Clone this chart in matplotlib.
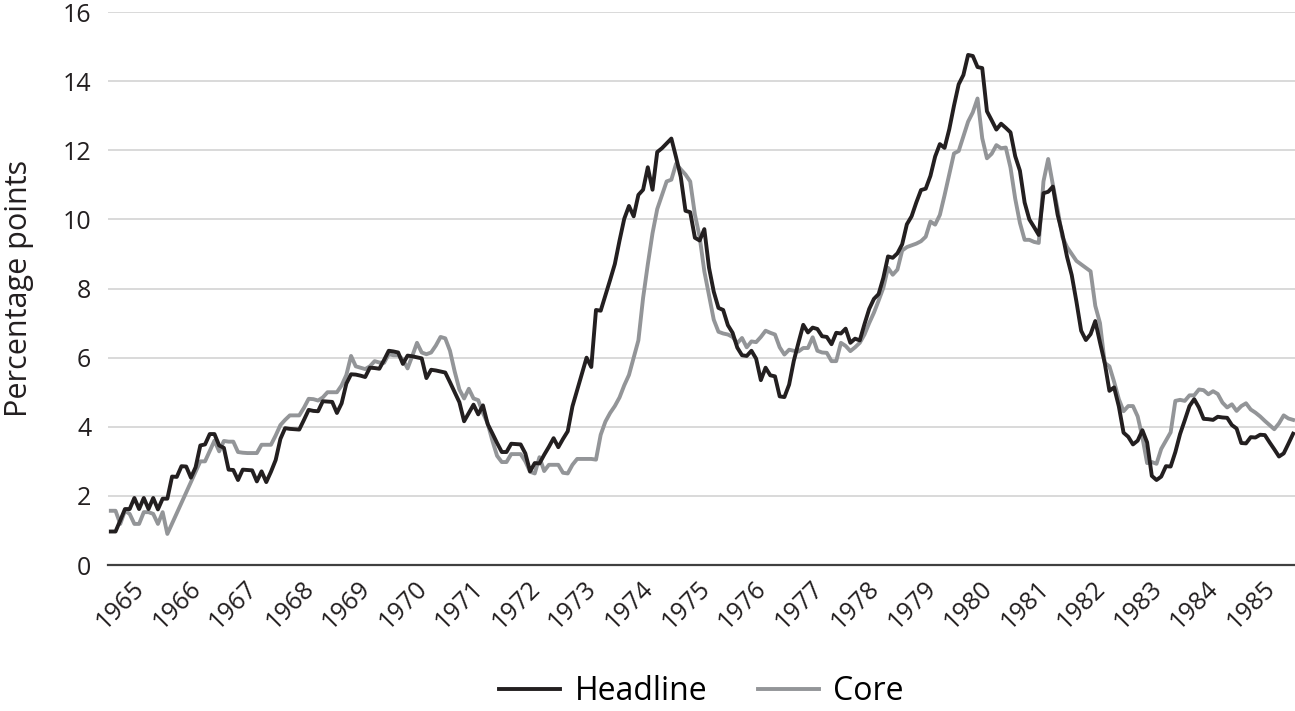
import numpy as np
import matplotlib
matplotlib.use("Agg")
import matplotlib.pyplot as plt

# === Data: monthly, Jan 1965 - Dec 1985 (percent, year over year) ===
headline = [
    0.97, 0.97, 1.29, 1.62, 1.62, 1.94, 1.62, 1.94, 1.62, 1.94, 1.61, 1.92,
    1.92, 2.56, 2.55, 2.86, 2.85, 2.53, 2.83, 3.46, 3.49, 3.79, 3.79, 3.46,
    3.39, 2.76, 2.75, 2.46, 2.76, 2.75, 2.74, 2.42, 2.71, 2.40, 2.70, 3.04,
    3.65, 3.96, 3.94, 3.93, 3.92, 4.20, 4.49, 4.46, 4.45, 4.74, 4.73, 4.72,
    4.40, 4.68, 5.25, 5.52, 5.51, 5.48, 5.44, 5.71, 5.70, 5.68, 5.93, 6.20,
    6.18, 6.15, 5.82, 6.06, 6.04, 6.01, 5.98, 5.41, 5.65, 5.63, 5.60, 5.57,
    5.29, 5.00, 4.71, 4.16, 4.40, 4.64, 4.36, 4.62, 4.08, 3.81, 3.53, 3.27,
    3.27, 3.51, 3.50, 3.49, 3.23, 2.71, 2.95, 2.94, 3.19, 3.42, 3.67, 3.41,
    3.65, 3.87, 4.59, 5.06, 5.53, 6.00, 5.73, 7.38, 7.36, 7.80, 8.25, 8.71,
    9.39, 10.02, 10.39, 10.09, 10.71, 10.86, 11.51, 10.86, 11.95, 12.06, 12.20, 12.34,
    11.80, 11.23, 10.25, 10.21, 9.47, 9.39, 9.72, 8.60, 7.91, 7.44, 7.38, 6.94,
    6.72, 6.29, 6.07, 6.05, 6.20, 5.97, 5.35, 5.71, 5.49, 5.46, 4.88, 4.86,
    5.22, 5.91, 6.44, 6.95, 6.73, 6.87, 6.83, 6.62, 6.60, 6.39, 6.72, 6.70,
    6.84, 6.43, 6.55, 6.50, 6.97, 7.41, 7.70, 7.84, 8.31, 8.93, 8.89, 9.02,
    9.28, 9.86, 10.09, 10.49, 10.85, 10.89, 11.26, 11.82, 12.18, 12.07, 12.61, 13.29,
    13.91, 14.18, 14.76, 14.73, 14.41, 14.38, 13.13, 12.87, 12.60, 12.77, 12.65, 12.52,
    11.83, 11.41, 10.49, 10.00, 9.78, 9.55, 10.76, 10.80, 10.95, 10.14, 9.59, 8.92,
    8.39, 7.62, 6.78, 6.51, 6.68, 7.06, 6.44, 5.85, 5.04, 5.14, 4.59, 3.83,
    3.71, 3.49, 3.60, 3.90, 3.55, 2.58, 2.46, 2.56, 2.86, 2.85, 3.27, 3.79,
    4.19, 4.60, 4.80, 4.56, 4.23, 4.22, 4.20, 4.29, 4.27, 4.26, 4.05, 3.95,
    3.53, 3.52, 3.70, 3.69, 3.77, 3.76, 3.55, 3.35, 3.14, 3.23, 3.51, 3.80,
]

core = [
    1.57, 1.57, 1.19, 1.57, 1.48, 1.19, 1.19, 1.53, 1.53, 1.48, 1.19, 1.53,
    0.90, 1.20, 1.50, 1.80, 2.10, 2.40, 2.70, 3.00, 3.00, 3.30, 3.60, 3.29,
    3.59, 3.57, 3.57, 3.27, 3.25, 3.24, 3.24, 3.24, 3.48, 3.48, 3.48, 3.75,
    4.05, 4.20, 4.33, 4.33, 4.33, 4.55, 4.81, 4.80, 4.76, 4.85, 5.00, 5.00,
    5.00, 5.20, 5.50, 6.05, 5.75, 5.71, 5.67, 5.75, 5.90, 5.86, 5.85, 6.10,
    6.07, 6.07, 5.95, 5.69, 6.05, 6.43, 6.15, 6.10, 6.15, 6.35, 6.60, 6.56,
    6.20, 5.60, 5.08, 4.82, 5.10, 4.82, 4.77, 4.40, 4.10, 3.60, 3.16, 2.98,
    2.98, 3.21, 3.21, 3.21, 3.00, 2.70, 2.65, 3.12, 2.72, 2.90, 2.90, 2.90,
    2.67, 2.65, 2.90, 3.07, 3.07, 3.07, 3.07, 3.05, 3.77, 4.15, 4.40, 4.60,
    4.85, 5.20, 5.50, 6.00, 6.50, 7.73, 8.70, 9.60, 10.30, 10.70, 11.10, 11.15,
    11.61, 11.45, 11.30, 11.10, 10.14, 9.50, 8.50, 7.80, 7.10, 6.75, 6.70, 6.67,
    6.60, 6.42, 6.57, 6.30, 6.47, 6.45, 6.60, 6.78, 6.72, 6.67, 6.30, 6.09,
    6.23, 6.20, 6.18, 6.28, 6.28, 6.59, 6.20, 6.15, 6.14, 5.90, 5.90, 6.43,
    6.34, 6.19, 6.30, 6.43, 6.67, 7.00, 7.30, 7.65, 8.02, 8.60, 8.40, 8.55,
    9.10, 9.20, 9.25, 9.30, 9.37, 9.50, 9.94, 9.85, 10.13, 10.70, 11.30, 11.91,
    11.98, 12.40, 12.83, 13.10, 13.50, 12.35, 11.77, 11.90, 12.15, 12.06, 12.08, 11.50,
    10.60, 9.90, 9.41, 9.41, 9.35, 9.32, 11.10, 11.75, 11.00, 10.30, 9.50, 9.20,
    9.00, 8.80, 8.70, 8.60, 8.50, 7.50, 7.00, 5.85, 5.75, 5.30, 4.80, 4.45,
    4.60, 4.60, 4.30, 3.70, 2.95, 2.98, 2.93, 3.36, 3.60, 3.84, 4.75, 4.78,
    4.75, 4.91, 4.91, 5.08, 5.06, 4.94, 5.03, 4.95, 4.70, 4.56, 4.65, 4.46,
    4.60, 4.68, 4.50, 4.41, 4.30, 4.17, 4.05, 3.93, 4.10, 4.33, 4.24, 4.20,
]

years = list(range(1965, 1986))
months = np.arange(len(headline))

# === Style ===
plt.rcParams['font.family'] = ['Open Sans', 'DejaVu Sans']

fig = plt.figure(figsize=(12.95, 7.11), dpi=100)
ax = fig.add_axes([0.0834, 0.2053, 0.9166, 0.7777])

ax.plot(months, core, color='#939598', lw=2.8, label='Core', zorder=3)
ax.plot(months, headline, color='#231f20', lw=2.8, label='Headline', zorder=4)

ax.set_ylim(0, 16)
ax.set_yticks(range(0, 17, 2))
ax.set_xlim(-0.6, 251.4)
ax.set_xticks([4.5 + 12 * k for k in range(len(years))])
ax.set_xticklabels([str(y) for y in years], rotation=45, ha='right',
                   va='top', rotation_mode='anchor')

ax.grid(axis='y', color='#d0d0d0', lw=1.1)
ax.set_axisbelow(True)
for s in ['top', 'right', 'left']:
    ax.spines[s].set_visible(False)
ax.spines['bottom'].set_color('#404040')
ax.spines['bottom'].set_linewidth(1.6)
ax.spines['bottom'].set_zorder(5)

ax.tick_params(axis='both', length=0, labelsize=18, colors='#231f20')
ax.tick_params(axis='y', pad=12)
ax.tick_params(axis='x', pad=8)
ax.set_ylabel('Percentage points', fontsize=22, color='#231f20')
ax.yaxis.set_label_coords(-0.062, 0.5)

handles, labels = ax.get_legend_handles_labels()
ax.legend(handles[::-1], labels[::-1], loc='lower center',
          bbox_to_anchor=(0.5, -0.31), ncol=2, frameon=False,
          fontsize=23, handlelength=1.9, columnspacing=1.6, handletextpad=0.45)

plt.savefig('out.png', dpi=100)
